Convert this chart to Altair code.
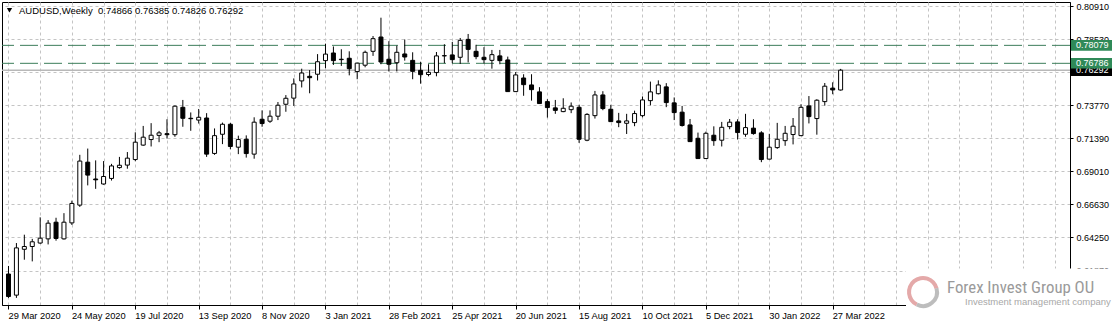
import altair as alt
import pandas as pd

# ---- data (weekly AUDUSD candles) ----
opens = [0.6162, 0.6010, 0.6340, 0.6360, 0.6385, 0.6415, 0.6535, 0.6415, 0.6530, 0.6658,
         0.6967, 0.6846, 0.6810, 0.6850, 0.6928, 0.6946, 0.6986, 0.7090, 0.7130, 0.7160,
         0.7172, 0.7165, 0.7362, 0.7283, 0.7270, 0.7285, 0.7030, 0.7168, 0.7240, 0.7075,
         0.7132, 0.7025, 0.7276, 0.7262, 0.7298, 0.7384, 0.7428, 0.7552, 0.7585, 0.7600,
         0.7698, 0.7753, 0.7705, 0.7715, 0.7619, 0.7665, 0.7765, 0.7868, 0.7708, 0.7683,
         0.7746, 0.7700, 0.7628, 0.7598, 0.7612, 0.7732, 0.7739, 0.7722, 0.7851, 0.7765,
         0.7722, 0.7700, 0.7732, 0.7703, 0.7475, 0.7573, 0.7523, 0.7473, 0.7403, 0.7358,
         0.7331, 0.7345, 0.7362, 0.7125, 0.7302, 0.7451, 0.7348, 0.7264, 0.7247, 0.7252,
         0.7302, 0.7410, 0.7460, 0.7509, 0.7394, 0.7327, 0.7235, 0.7139, 0.6993, 0.7161,
         0.7125, 0.7223, 0.7257, 0.7168, 0.7212, 0.7178, 0.6989, 0.7072, 0.7122, 0.7166,
         0.7158, 0.7372, 0.7281, 0.7403, 0.7500, 0.74866]
highs = [0.6220, 0.6385, 0.6445, 0.6415, 0.6570, 0.6550, 0.6567, 0.6600, 0.6690, 0.7020,
         0.7065, 0.6980, 0.6975, 0.6955, 0.7005, 0.7040, 0.7182, 0.7228, 0.7248, 0.7192,
         0.7276, 0.7375, 0.7415, 0.7325, 0.7350, 0.7320, 0.7210, 0.7252, 0.7250, 0.7158,
         0.7160, 0.7290, 0.7340, 0.7340, 0.7400, 0.7450, 0.7570, 0.7640, 0.7630, 0.7745,
         0.7820, 0.7800, 0.7780, 0.7765, 0.7682, 0.7770, 0.7875, 0.8007, 0.7838, 0.7806,
         0.7850, 0.7758, 0.7690, 0.7672, 0.7760, 0.7816, 0.7832, 0.7861, 0.7890, 0.7812,
         0.7795, 0.7775, 0.7775, 0.7727, 0.7616, 0.7600, 0.7600, 0.7507, 0.7420, 0.7415,
         0.7427, 0.7397, 0.7380, 0.7320, 0.7480, 0.7478, 0.7380, 0.7322, 0.7315, 0.7338,
         0.7440, 0.7547, 0.7556, 0.7536, 0.7433, 0.7372, 0.7278, 0.7180, 0.7187, 0.7225,
         0.7257, 0.7278, 0.7276, 0.7315, 0.7276, 0.7190, 0.7171, 0.7250, 0.7228, 0.7285,
         0.7384, 0.7443, 0.7420, 0.7537, 0.7542, 0.76385]
lows = [0.5990, 0.5990, 0.6265, 0.6253, 0.6380, 0.6375, 0.6402, 0.6410, 0.6515, 0.6645,
        0.6800, 0.6775, 0.6805, 0.6835, 0.6920, 0.6920, 0.6974, 0.7085, 0.7080, 0.7111,
        0.7137, 0.7150, 0.7222, 0.7193, 0.7245, 0.7005, 0.7020, 0.7097, 0.7060, 0.7025,
        0.7000, 0.6992, 0.7222, 0.7250, 0.7270, 0.7330, 0.7372, 0.7505, 0.7463, 0.7555,
        0.7643, 0.7667, 0.7660, 0.7592, 0.7564, 0.7650, 0.7732, 0.7672, 0.7620, 0.7620,
        0.7698, 0.7564, 0.7532, 0.7585, 0.7585, 0.7679, 0.7679, 0.7674, 0.7685, 0.7708,
        0.7678, 0.7640, 0.7672, 0.7475, 0.7475, 0.7445, 0.7410, 0.7389, 0.7288, 0.7315,
        0.7327, 0.7320, 0.7106, 0.7118, 0.7281, 0.7341, 0.7257, 0.7219, 0.7170, 0.7226,
        0.7290, 0.7376, 0.7455, 0.7363, 0.7270, 0.7223, 0.7113, 0.6992, 0.6990, 0.7085,
        0.7080, 0.7204, 0.7130, 0.7150, 0.7165, 0.6967, 0.6988, 0.7063, 0.7085, 0.7095,
        0.7155, 0.7246, 0.7165, 0.7374, 0.7456, 0.74826]
closes = [0.6000, 0.6350, 0.6360, 0.6394, 0.6420, 0.6528, 0.6418, 0.6535, 0.6670, 0.6975,
          0.6874, 0.6840, 0.6864, 0.6940, 0.6945, 0.6996, 0.7111, 0.7147, 0.7161, 0.7178,
          0.7165, 0.7370, 0.7283, 0.7280, 0.7290, 0.7025, 0.7158, 0.7240, 0.7080, 0.7130,
          0.7029, 0.7255, 0.7245, 0.7298, 0.7377, 0.7427, 0.7530, 0.7609, 0.7575, 0.7690,
          0.7745, 0.7698, 0.7708, 0.7640, 0.7680, 0.7758, 0.7856, 0.7688, 0.7672, 0.7758,
          0.7724, 0.7621, 0.7597, 0.7614, 0.7732, 0.7734, 0.7705, 0.7844, 0.7779, 0.7727,
          0.7705, 0.7741, 0.7698, 0.7475, 0.7595, 0.7525, 0.7489, 0.7389, 0.7360, 0.7340,
          0.7355, 0.7370, 0.7132, 0.7311, 0.7451, 0.7353, 0.7259, 0.7252, 0.7264, 0.7317,
          0.7415, 0.7473, 0.7523, 0.7396, 0.7324, 0.7231, 0.7115, 0.6993, 0.7175, 0.7122,
          0.7218, 0.7255, 0.7180, 0.7216, 0.7173, 0.6986, 0.7075, 0.7132, 0.7175, 0.7226,
          0.7362, 0.7295, 0.7413, 0.7514, 0.7487, 0.76292]

week_labels = ["29 Mar 2020", "24 May 2020", "19 Jul 2020", "13 Sep 2020", "8 Nov 2020",
               "3 Jan 2021", "28 Feb 2021", "25 Apr 2021", "20 Jun 2021", "15 Aug 2021",
               "10 Oct 2021", "5 Dec 2021", "30 Jan 2022", "27 Mar 2022"]
price_ticks = [0.61870, 0.64250, 0.66630, 0.69010, 0.71390, 0.73770, 0.76150, 0.78530, 0.80910]
level_prices = [0.78079, 0.76786]
level_labels = ["0.78079", "0.76786"]
last_price = [0.76292]
last_label = ["0.76292"]
header_text = "AUDUSD,Weekly\u00a0\u00a00.74866 0.76385 0.74826 0.76292"
brand = "Forex Invest Group OU"
brand_sub = "Investment management company"

FONT = "Liberation Sans"
GREEN = "#2f8a58"

df = pd.DataFrame({"i": list(range(len(opens))), "open": opens, "high": highs,
                   "low": lows, "close": closes})

xscale = alt.Scale(domain=[-0.1875, 133.3125], nice=False, zero=False)
yscale = alt.Scale(domain=[0.5939, 0.8120], nice=False, zero=False)

label_arr = "[" + ",".join("'" + s + "'" for s in week_labels) + "]"
n_lab = len(week_labels)
x_axis = alt.Axis(
    values=list(range(0, 134, 4)),
    labelExpr=f"(datum.value % 8 == 0 && datum.value / 8 < {n_lab}) ? {label_arr}[datum.value / 8] : ''",
    tickOpacity={"condition": {"test": f"datum.value % 8 == 0 && datum.value / 8 < {n_lab}", "value": 1}, "value": 0},
    title=None)
y_axis = alt.Axis(orient="right", values=price_ticks, format=".5f", title=None)

def Y(field):
    return alt.Y(field, scale=yscale, axis=y_axis)

base = alt.Chart(df).encode(x=alt.X("i:Q", scale=xscale, axis=x_axis))

wicks = base.mark_rule(color="black", strokeWidth=1).encode(y=Y("low:Q"), y2="high:Q")

bodies = base.mark_bar(size=4, stroke="black", strokeWidth=1).encode(
    y=Y("open:Q"), y2="close:Q",
    fill=alt.condition("datum.open > datum.close", alt.value("black"), alt.value("white")))

lev_df = pd.DataFrame({"p": level_prices, "lab": level_labels})
last_df = pd.DataFrame({"p": last_price, "lab": last_label})

last_line = alt.Chart(last_df).mark_rule(color="#b8b8b8", strokeWidth=1.5).encode(y=Y("p:Q"))
lev_lines = alt.Chart(lev_df).mark_rule(color="#3b7d5a", strokeWidth=1, strokeDash=[18, 6]).encode(
    y=Y("p:Q"))

last_box = alt.Chart(last_df).transform_calculate(
    t="datum.p + 0.0042", b="datum.p - 0.0042").mark_rect(color="black").encode(
    y=Y("t:Q"), y2="b:Q", x=alt.value(1069), x2=alt.value(1110))
last_txt = alt.Chart(last_df).mark_text(align="left", baseline="middle", font=FONT,
                                        fontSize=9, color="white").encode(
    y=Y("p:Q"), x=alt.value(1074), text="lab:N")

lev_box = alt.Chart(lev_df).transform_calculate(
    t="datum.p + 0.0038", b="datum.p - 0.0038").mark_rect(color=GREEN).encode(
    y=Y("t:Q"), y2="b:Q", x=alt.value(1069), x2=alt.value(1110))
lev_txt = alt.Chart(lev_df).mark_text(align="left", baseline="middle", font=FONT,
                                      fontSize=9, color="white").encode(
    y=Y("p:Q"), x=alt.value(1074), text="lab:N")

one = alt.Data(values=[{"a": 1}])

wm_box = alt.Chart(one).mark_rect(color="white").encode(
    x=alt.value(904), x2=alt.value(1113), y=alt.value(266.5), y2=alt.value(325))
logo_red = alt.Chart(one).mark_arc(radius=16, radius2=12, theta=3.6, theta2=7.6,
                                   color="#e4a9a9").encode(x=alt.value(921), y=alt.value(290))
logo_grey = alt.Chart(one).mark_arc(radius=16, radius2=12, theta=1.3, theta2=3.6,
                                    color="#bdbdbd").encode(x=alt.value(921), y=alt.value(290))
brand_txt = alt.Chart(one).mark_text(
    text=brand, align="left", baseline="middle",
    font="Liberation Sans Narrow, Roboto Condensed, DejaVu Sans Condensed, Liberation Sans",
    fontSize=16.8, color="#9a9a9a").encode(x=alt.value(945), y=alt.value(286))
brand_sub_txt = alt.Chart(one).mark_text(
    text=brand_sub, align="left", baseline="middle", font=FONT, fontSize=9.5,
    color="#a8a8a8").encode(x=alt.value(963), y=alt.value(300))

tri = alt.Chart(one).mark_point(shape="triangle-down", filled=True, size=28,
                                color="black", opacity=1).encode(
    x=alt.value(7.5), y=alt.value(8.3))
header = alt.Chart(one).mark_text(text=header_text, align="left", baseline="middle",
                                  font=FONT, fontSize=9.5, color="black").encode(
    x=alt.value(17), y=alt.value(8.8))

chart = alt.layer(
    last_line, lev_lines, wicks, bodies, last_box, last_txt, lev_box, lev_txt,
    wm_box, logo_red, logo_grey, brand_txt, brand_sub_txt, tri, header
).properties(
    width=1068, height=303,
    padding={"left": 2, "top": 2, "right": 45, "bottom": 22},
    autosize=alt.AutoSizeParams(type="none"),
    background="white",
).configure_view(
    stroke="black", strokeWidth=1
).configure_axis(
    grid=True, gridDash=[3, 3], gridColor="#c4c4c4", gridWidth=1, gridOpacity=1,
    labelFont=FONT, labelColor="black", labelOverlap=False, labelFlush=False,
    labelBound=False, tickColor="black", domainColor="black"
).configure_axisX(
    labelAlign="left", labelFontSize=9.3, labelPadding=2, labelOffset=-0.5, tickSize=4
).configure_axisY(
    labelFontSize=9, labelPadding=3, tickSize=3
)

chart.save("out.html", embed_options={"renderer": "svg", "actions": False})
